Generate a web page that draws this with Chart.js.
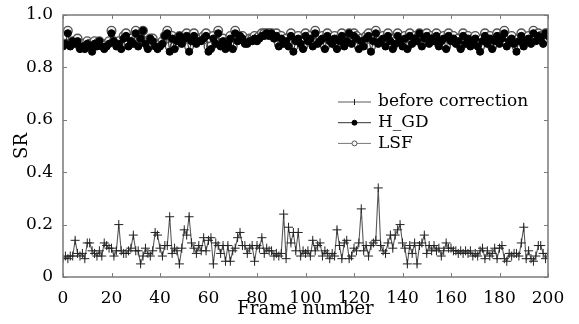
<!DOCTYPE html>
<html>
<head>
<meta charset="utf-8">
<script src="https://cdn.jsdelivr.net/npm/chart.js@4"></script>
<style>
  html, body { margin: 0; padding: 0; background: #fff; }
  #wrap { width: 579px; height: 324px; }
</style>
</head>
<body>
<div id="wrap"><canvas id="srChart"></canvas></div>
<script>
// frame numbers 0..200
const frames = Array.from({ length: 201 }, (_, i) => i);

const beforeCorrection = [
  0.07, 0.08, 0.07, 0.08, 0.08, 0.14, 0.09, 0.08, 0.09, 0.07,
  0.13, 0.13, 0.10, 0.09, 0.08, 0.10, 0.08, 0.13, 0.12, 0.11,
  0.11, 0.08, 0.10, 0.20, 0.10, 0.09, 0.09, 0.10, 0.11, 0.16,
  0.10, 0.10, 0.05, 0.08, 0.11, 0.09, 0.08, 0.10, 0.17, 0.16,
  0.11, 0.08, 0.12, 0.12, 0.23, 0.09, 0.11, 0.10, 0.05, 0.11,
  0.18, 0.16, 0.23, 0.13, 0.11, 0.09, 0.12, 0.10, 0.15, 0.10,
  0.14, 0.15, 0.05, 0.13, 0.12, 0.09, 0.12, 0.06, 0.12, 0.06,
  0.10, 0.11, 0.15, 0.17, 0.12, 0.12, 0.09, 0.11, 0.12, 0.06,
  0.12, 0.11, 0.15, 0.09, 0.11, 0.10, 0.10, 0.08, 0.09, 0.08,
  0.09, 0.24, 0.07, 0.19, 0.13, 0.17, 0.10, 0.17, 0.08, 0.10,
  0.09, 0.10, 0.08, 0.14, 0.10, 0.12, 0.13, 0.08, 0.10, 0.09,
  0.07, 0.09, 0.08, 0.18, 0.12, 0.07, 0.13, 0.14, 0.07, 0.08,
  0.11, 0.10, 0.13, 0.26, 0.10, 0.12, 0.08, 0.12, 0.13, 0.14,
  0.34, 0.12, 0.10, 0.09, 0.13, 0.16, 0.11, 0.16, 0.18, 0.20,
  0.13, 0.11, 0.05, 0.12, 0.09, 0.13, 0.05, 0.12, 0.13, 0.16,
  0.09, 0.12, 0.10, 0.12, 0.10, 0.11, 0.08, 0.10, 0.13, 0.11,
  0.11, 0.10, 0.10, 0.09, 0.10, 0.09, 0.10, 0.09, 0.10, 0.08,
  0.09, 0.08, 0.10, 0.11, 0.07, 0.10, 0.08, 0.09, 0.11, 0.07,
  0.11, 0.12, 0.07, 0.06, 0.09, 0.08, 0.09, 0.09, 0.08, 0.13,
  0.19, 0.07, 0.10, 0.07, 0.06, 0.08, 0.12, 0.12, 0.09, 0.07,
  0.09
];

const hGD = [
  0.88, 0.89, 0.93, 0.88, 0.90, 0.89, 0.90, 0.87, 0.88, 0.87,
  0.89, 0.88, 0.86, 0.89, 0.88, 0.90, 0.88, 0.87, 0.88, 0.89,
  0.93, 0.90, 0.88, 0.89, 0.87, 0.91, 0.92, 0.88, 0.90, 0.89,
  0.93, 0.88, 0.91, 0.94, 0.89, 0.87, 0.91, 0.90, 0.88, 0.87,
  0.88, 0.89, 0.92, 0.93, 0.86, 0.91, 0.87, 0.90, 0.92, 0.89,
  0.91, 0.92, 0.86, 0.90, 0.92, 0.89, 0.90, 0.90, 0.91, 0.92,
  0.86, 0.87, 0.91, 0.89, 0.93, 0.88, 0.90, 0.87, 0.89, 0.91,
  0.87, 0.93, 0.90, 0.92, 0.91, 0.89, 0.89, 0.90, 0.90, 0.91,
  0.90, 0.91, 0.92, 0.92, 0.93, 0.92, 0.93, 0.91, 0.92, 0.88,
  0.91, 0.89, 0.90, 0.88, 0.92, 0.86, 0.90, 0.91, 0.89, 0.87,
  0.92, 0.90, 0.91, 0.88, 0.93, 0.89, 0.90, 0.91, 0.87, 0.92,
  0.90, 0.89, 0.91, 0.87, 0.90, 0.92, 0.88, 0.90, 0.93, 0.89,
  0.92, 0.91, 0.87, 0.90, 0.88, 0.91, 0.92, 0.86, 0.90, 0.93,
  0.89, 0.90, 0.91, 0.88, 0.92, 0.90, 0.87, 0.89, 0.92, 0.90,
  0.88, 0.91, 0.87, 0.92, 0.89, 0.91, 0.90, 0.93, 0.88, 0.91,
  0.92, 0.89, 0.91, 0.90, 0.92, 0.88, 0.90, 0.91, 0.87, 0.92,
  0.90, 0.91, 0.89, 0.90, 0.87, 0.92, 0.89, 0.91, 0.88, 0.90,
  0.91, 0.88, 0.86, 0.90, 0.92, 0.89, 0.91, 0.87, 0.90, 0.92,
  0.89, 0.91, 0.93, 0.88, 0.90, 0.91, 0.89, 0.86, 0.90, 0.92,
  0.88, 0.90, 0.91, 0.89, 0.93, 0.90, 0.92, 0.91, 0.89, 0.93,
  0.92
];

const lsf = [
  0.89, 0.89, 0.94, 0.89, 0.90, 0.90, 0.91, 0.88, 0.89, 0.88,
  0.90, 0.89, 0.88, 0.90, 0.89, 0.90, 0.89, 0.88, 0.89, 0.90,
  0.94, 0.90, 0.89, 0.90, 0.88, 0.92, 0.93, 0.89, 0.91, 0.90,
  0.94, 0.89, 0.91, 0.94, 0.90, 0.88, 0.91, 0.91, 0.89, 0.88,
  0.89, 0.90, 0.92, 0.94, 0.88, 0.92, 0.88, 0.91, 0.92, 0.90,
  0.92, 0.93, 0.88, 0.91, 0.93, 0.90, 0.91, 0.91, 0.92, 0.93,
  0.88, 0.88, 0.92, 0.90, 0.94, 0.89, 0.91, 0.88, 0.90, 0.92,
  0.88, 0.94, 0.91, 0.92, 0.92, 0.90, 0.90, 0.91, 0.91, 0.92,
  0.91, 0.92, 0.93, 0.93, 0.93, 0.93, 0.93, 0.92, 0.93, 0.89,
  0.92, 0.90, 0.91, 0.89, 0.93, 0.88, 0.91, 0.92, 0.90, 0.88,
  0.93, 0.91, 0.92, 0.89, 0.94, 0.90, 0.91, 0.92, 0.88, 0.93,
  0.91, 0.90, 0.92, 0.88, 0.91, 0.93, 0.89, 0.91, 0.93, 0.90,
  0.93, 0.92, 0.88, 0.91, 0.89, 0.92, 0.93, 0.88, 0.91, 0.94,
  0.90, 0.91, 0.92, 0.89, 0.93, 0.91, 0.88, 0.90, 0.93, 0.91,
  0.89, 0.92, 0.88, 0.93, 0.90, 0.92, 0.91, 0.93, 0.89, 0.92,
  0.93, 0.90, 0.92, 0.91, 0.93, 0.89, 0.91, 0.92, 0.88, 0.93,
  0.91, 0.92, 0.90, 0.91, 0.88, 0.93, 0.90, 0.92, 0.89, 0.91,
  0.92, 0.89, 0.88, 0.91, 0.93, 0.90, 0.92, 0.88, 0.91, 0.93,
  0.90, 0.92, 0.94, 0.89, 0.91, 0.92, 0.90, 0.88, 0.91, 0.93,
  0.89, 0.91, 0.92, 0.90, 0.94, 0.91, 0.93, 0.92, 0.90, 0.93,
  0.93
];

const seriesNames = ['before correction', 'H_GD', 'LSF'];
const xTicks = [0, 20, 40, 60, 80, 100, 120, 140, 160, 180, 200];
const yTicks = [0, 0.2, 0.4, 0.6, 0.8, 1.0];

const FONT = "'DejaVu Serif', 'Liberation Serif', serif";
const pts = arr => frames.map((f, i) => ({ x: f, y: arr[i] }));

// box frame with inward ticks on all four sides
const frameBox = {
  id: 'frameBox',
  afterDatasetsDraw(chart) {
    const { ctx, chartArea: a, scales: { x, y } } = chart;
    ctx.save();
    ctx.strokeStyle = '#7a7a7a';
    ctx.lineWidth = 1.5;
    ctx.strokeRect(a.left, a.top, a.right - a.left, a.bottom - a.top);
    ctx.lineWidth = 1;
    ctx.beginPath();
    xTicks.forEach(v => {
      const px = Math.round(x.getPixelForValue(v)) + 0.5;
      ctx.moveTo(px, a.bottom); ctx.lineTo(px, a.bottom - 4);
      ctx.moveTo(px, a.top); ctx.lineTo(px, a.top + 4);
    });
    yTicks.forEach(v => {
      const py = Math.round(y.getPixelForValue(v)) + 0.5;
      ctx.moveTo(a.left, py); ctx.lineTo(a.left + 4, py);
      ctx.moveTo(a.right, py); ctx.lineTo(a.right - 4, py);
    });
    ctx.stroke();
    ctx.restore();
  }
};

// legend inside the plot, matplotlib style
const boxLegend = {
  id: 'boxLegend',
  afterDraw(chart) {
    const { ctx, chartArea: a } = chart;
    const x0 = a.left + (a.right - a.left) * 0.567;
    const y0 = a.top + 87;
    const rowH = 20.7;
    ctx.save();
    ctx.font = '17px ' + FONT;
    ctx.textBaseline = 'middle';
    chart.data.datasets.forEach((ds, i) => {
      const yy = y0 + i * rowH;
      ctx.strokeStyle = ds.borderColor;
      ctx.lineWidth = 1;
      ctx.beginPath();
      ctx.moveTo(x0, yy); ctx.lineTo(x0 + 33, yy);
      ctx.stroke();
      const cx = x0 + 16.5;
      ctx.beginPath();
      if (ds.pointStyle === 'cross') {
        ctx.strokeStyle = ds.pointBorderColor;
        ctx.moveTo(cx, yy - 3); ctx.lineTo(cx, yy + 3);
        ctx.stroke();
      } else {
        ctx.arc(cx, yy, 2.5, 0, Math.PI * 2);
        ctx.fillStyle = ds.pointBackgroundColor;
        ctx.fill();
        ctx.strokeStyle = ds.pointBorderColor;
        ctx.stroke();
      }
      ctx.fillStyle = '#000';
      ctx.fillText(ds.label, x0 + 40, yy);
    });
    ctx.restore();
  }
};

new Chart(document.getElementById('srChart'), {
  type: 'line',
  data: {
    datasets: [
      {
        label: seriesNames[0],
        data: pts(beforeCorrection),
        borderColor: '#5a5a5a',
        borderWidth: 1.1,
        pointStyle: 'cross',
        pointRadius: 4.5,
        pointBorderColor: '#222',
        pointBorderWidth: 1,
        tension: 0
      },
      {
        label: seriesNames[1],
        data: pts(hGD),
        borderColor: '#333',
        borderWidth: 1,
        pointStyle: 'circle',
        pointRadius: 3.6,
        pointBackgroundColor: '#000',
        pointBorderColor: '#000',
        pointBorderWidth: 1,
        tension: 0
      },
      {
        label: seriesNames[2],
        data: pts(lsf),
        borderColor: '#777',
        borderWidth: 1,
        pointStyle: 'circle',
        pointRadius: 4.3,
        pointBackgroundColor: '#f4f4f4',
        pointBorderColor: '#555',
        pointBorderWidth: 1.4,
        tension: 0
      }
    ]
  },
  options: {
    responsive: true,
    maintainAspectRatio: false,
    animation: false,
    layout: { padding: { top: 15, right: 31, left: 0, bottom: 0 } },
    plugins: { legend: { display: false }, tooltip: { enabled: false } },
    scales: {
      x: {
        type: 'linear', min: 0, max: 200,
        afterBuildTicks: s => { s.ticks = xTicks.map(v => ({ value: v })); },
        afterFit: s => { s.height = 47; },
        grid: { display: false },
        border: { display: false },
        ticks: { color: '#000', font: { family: FONT, size: 17 }, padding: 3, maxRotation: 0 },
        title: { display: true, text: 'Frame number', color: '#000', font: { family: FONT, size: 18 }, padding: { top: 0, bottom: 4 } }
      },
      y: {
        min: 0, max: 1,
        afterBuildTicks: s => { s.ticks = yTicks.map(v => ({ value: v })); },
        afterFit: s => { s.width = 63; },
        grid: { display: false },
        border: { display: false },
        ticks: {
          color: '#000', font: { family: FONT, size: 17 }, padding: 2,
          callback: v => v === 0 ? '0' : v.toFixed(1)
        },
        title: { display: true, text: 'SR', color: '#000', font: { family: FONT, size: 18 }, padding: { top: 12, bottom: 4 } }
      }
    }
  },
  plugins: [frameBox, boxLegend]
});
</script>
</body>
</html>
